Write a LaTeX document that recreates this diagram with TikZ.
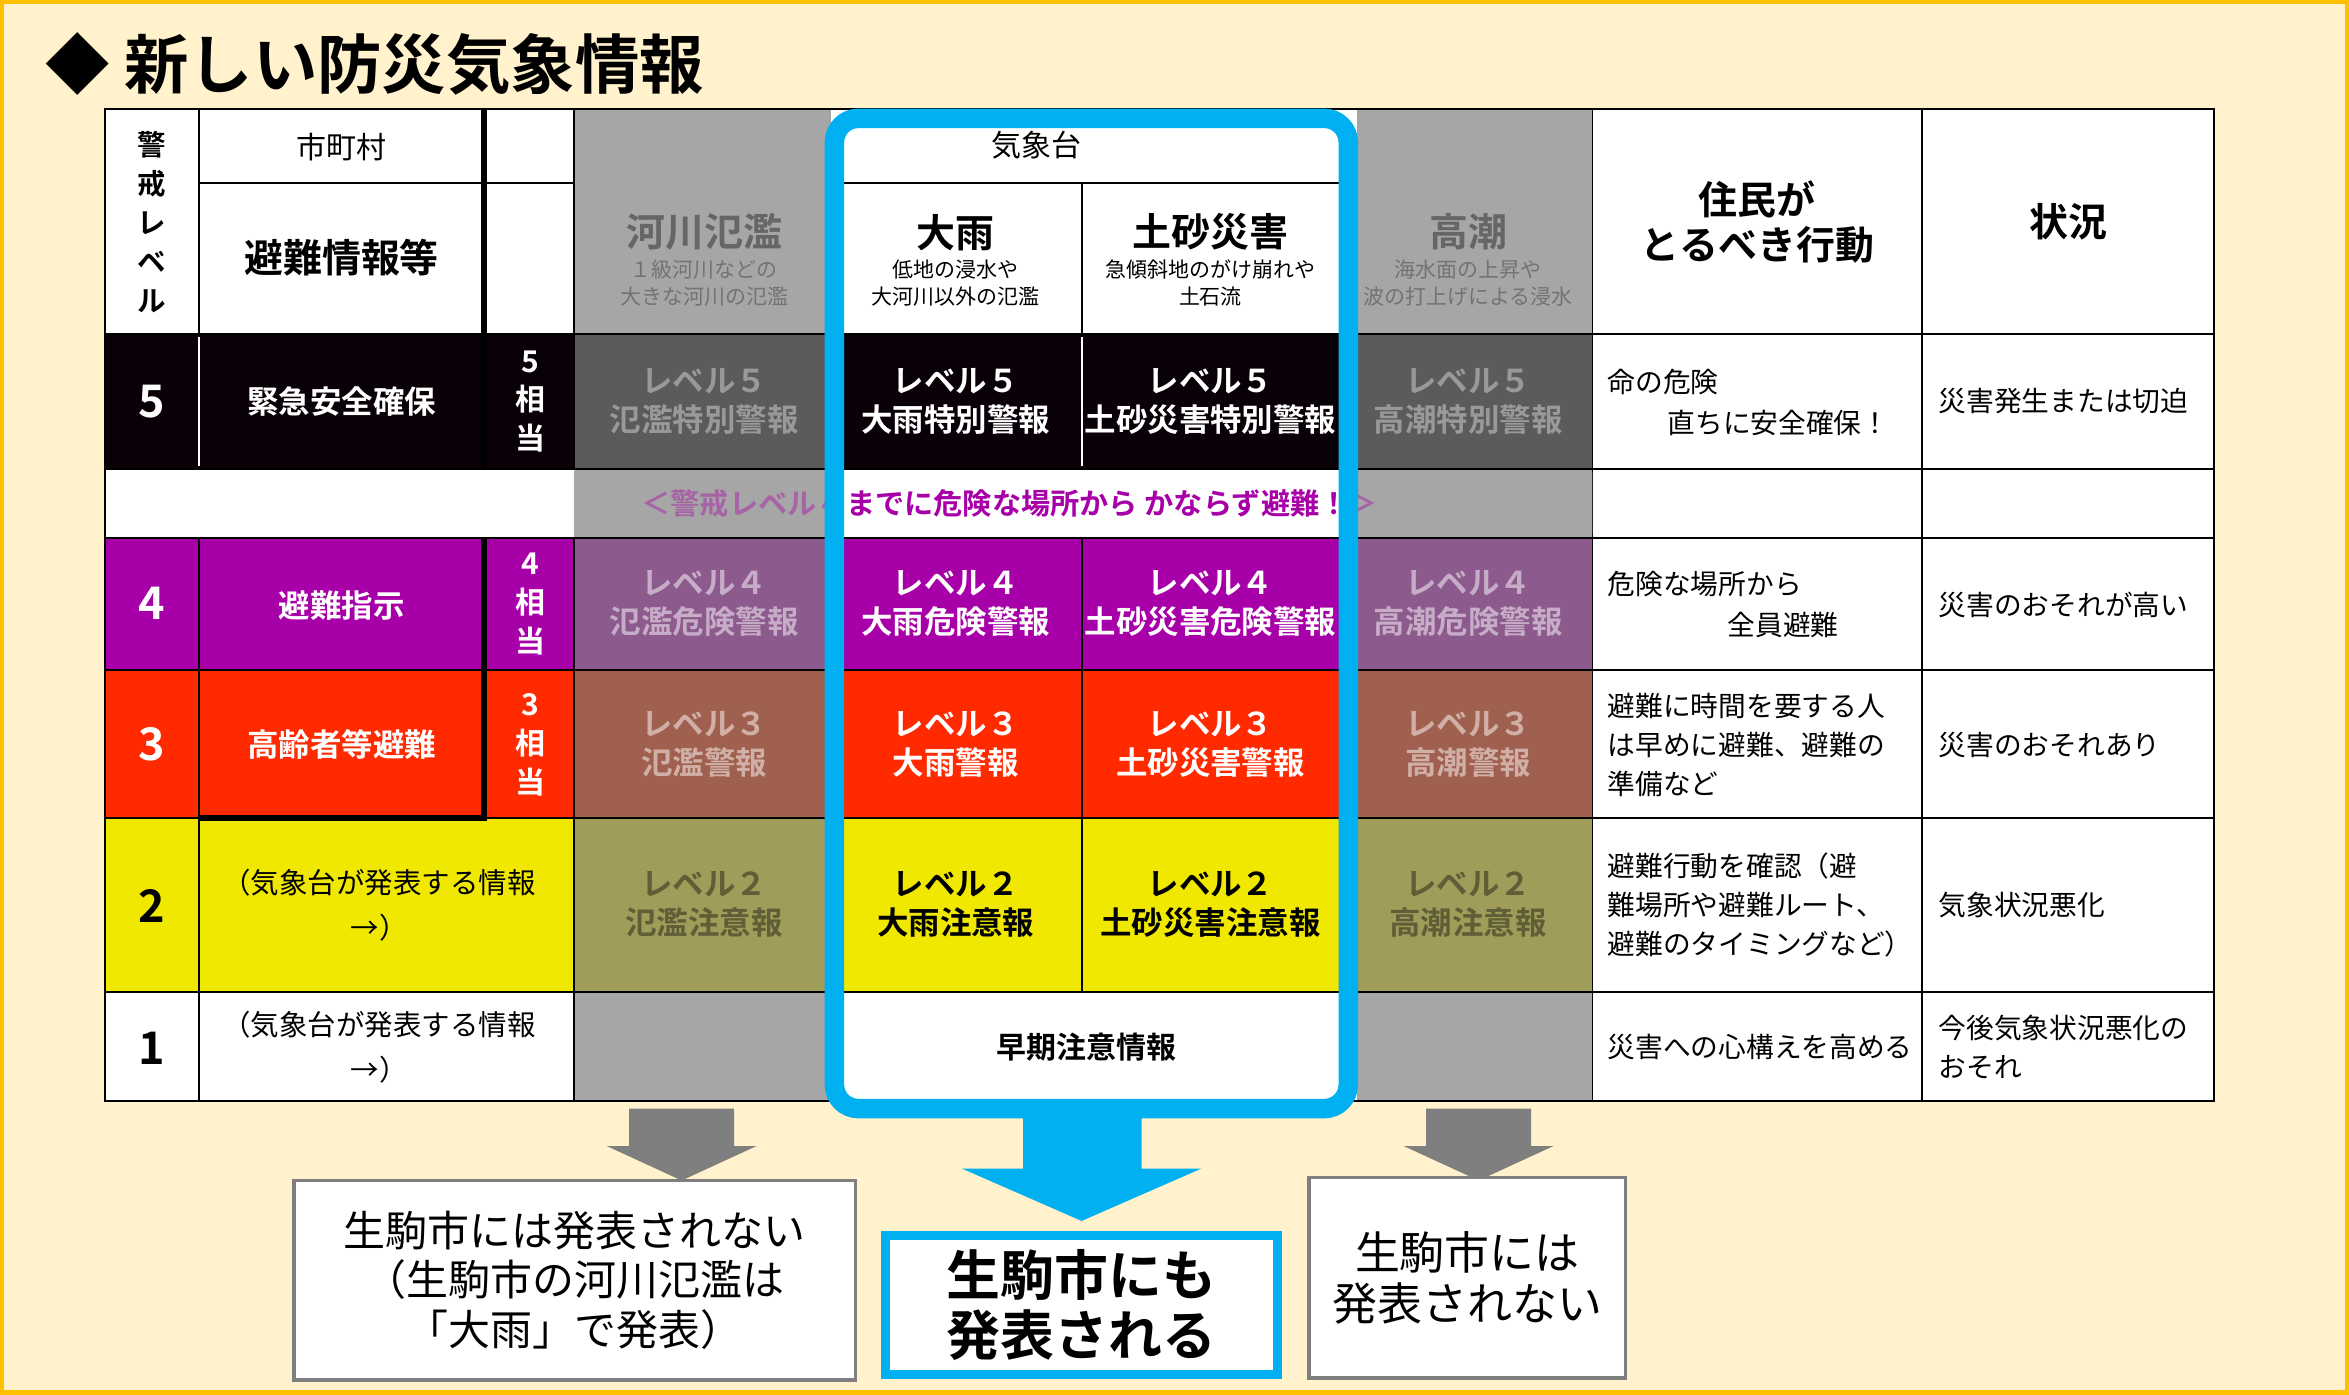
\documentclass[tikz,border=0pt]{standalone}
\usepackage{fontspec}
\setmainfont{Noto Sans CJK JP}
\newfontfamily\jpb{Noto Sans CJK JP Bold}
\usetikzlibrary{shapes.arrows}
\definecolor{bg}{HTML}{FFF2CC}
\definecolor{org}{HTML}{FFC000}
\definecolor{blk}{HTML}{0A0008}
\definecolor{pur}{HTML}{A800A8}
\definecolor{red5}{HTML}{FF2A00}
\definecolor{yel}{HTML}{F0E800}
\definecolor{gW}{HTML}{A6A6A6}
\definecolor{gK}{HTML}{5B5A5C}
\definecolor{gP}{HTML}{8C5A8C}
\definecolor{gR}{HTML}{A0604F}
\definecolor{gY}{HTML}{A09C5A}
\definecolor{sky}{HTML}{00B0F0}
\definecolor{bord}{HTML}{7F7F7F}
\tikzset{
 lv/.style={font=\jpb\fontsize{21}{24}\selectfont,align=center,inner sep=0},
 hd/.style={font=\jpb\fontsize{26}{30}\selectfont,align=center,inner sep=0},
 sub/.style={font=\fontsize{14}{18}\selectfont,align=center,inner sep=0},
 dig/.style={font=\jpb\fontsize{30}{30}\selectfont,inner sep=0},
 rt/.style={font=\fontsize{18.5}{26}\selectfont,align=left,anchor=west,inner sep=0},
 grid/.style={line width=1.3pt,black},
}
\newcommand{\cellf}[5]{\fill[#5] (#1,#2) rectangle (#3,#4);}
\begin{document}
\begin{tikzpicture}[x=1pt,y=-1pt]
\useasboundingbox (0,0) rectangle (1568,931);
\fill[bg] (0,0) rectangle (1568,931);
\draw[org,line width=3pt] (1.5,1.5) rectangle (1566.5,929.5);
\node[anchor=west,font=\jpb\fontsize{43}{43}\selectfont,inner sep=0] (title) at (30,43) {◆ 新しい防災気象情報};
% header fills
\cellf{70}{73}{1478}{223}{white}
\cellf{383}{73}{555}{223}{gW}
\cellf{906}{73}{1063}{223}{gW}
% row 5
\cellf{70}{223}{1478}{313}{white}
\cellf{70}{223}{383}{313}{blk}\cellf{383}{223}{555}{313}{gK}\cellf{555}{223}{906}{313}{blk}\cellf{906}{223}{1063}{313}{gK}
% banner
\cellf{70}{313}{1478}{359}{white}\cellf{383}{313}{1063}{359}{gW}\cellf{555}{313}{906}{359}{white}
% row 4
\cellf{70}{359}{1478}{447}{white}
\cellf{70}{359}{383}{447}{pur}\cellf{383}{359}{555}{447}{gP}\cellf{555}{359}{906}{447}{pur}\cellf{906}{359}{1063}{447}{gP}
% row 3
\cellf{70}{447}{1478}{546}{white}
\cellf{70}{447}{383}{546}{red5}\cellf{383}{447}{555}{546}{gR}\cellf{555}{447}{906}{546}{red5}\cellf{906}{447}{1063}{546}{gR}
% row 2
\cellf{70}{546}{1478}{662}{white}
\cellf{70}{546}{383}{662}{yel}\cellf{383}{546}{555}{662}{gY}\cellf{555}{546}{906}{662}{yel}\cellf{906}{546}{1063}{662}{gY}
% row 1
\cellf{70}{662}{1478}{735}{white}\cellf{383}{662}{555}{735}{gW}\cellf{906}{662}{1063}{735}{gW}
% grid lines
\draw[grid] (70,73) rectangle (1478,735);
\foreach \y in {223,313,359,447,546,662} \draw[grid] (70,\y) -- (1478,\y);
\draw[grid] (133,122) -- (383,122);
\draw[grid] (555,122) -- (906,122);
\foreach \x in {1063,1283} \draw[grid] (\x,73) -- (\x,735);
\draw[grid] (133,73) -- (133,313); \draw[grid] (133,359) -- (133,735);
\draw[grid] (383,73) -- (383,313); \draw[grid] (383,359) -- (383,735);
\draw[grid] (722,122) -- (722,313); \draw[grid] (722,359) -- (722,662);
\draw[white,line width=1.3pt] (133,225) -- (133,311) (323,225) -- (323,311) (722,225) -- (722,311);
\draw[black,line width=3.5pt] (323,73) -- (323,313) (323,359) -- (323,546) (133,546) -- (325,546);
% header texts
\node[font=\jpb\fontsize{19}{26}\selectfont,align=center,inner sep=0] (kei) at (101,148) {警\\戒\\レ\\ベ\\ル};
\node[font=\fontsize{20}{20}\selectfont] (shi) at (228,98) {市町村};
\node[hd] (hin) at (228,172) {避難情報等};
\node[font=\fontsize{20}{20}\selectfont] (kis) at (692,97) {気象台};
\node[hd,text=black!60] (kasen) at (470,155) {河川氾濫};
\node[sub,text=black!55] (kasens) at (470,189) {１級河川などの\\大きな河川の氾濫};
\node[hd] (ooame) at (638,155) {大雨};
\node[sub] (ooames) at (638,189) {低地の浸水や\\大河川以外の氾濫};
\node[hd] (dosha) at (808,155) {土砂災害};
\node[sub] (doshas) at (808,189) {急傾斜地のがけ崩れや\\土石流};
\node[hd,text=black!60] (taka) at (980,155) {高潮};
\node[sub,text=black!55] (takas) at (980,189) {海水面の上昇や\\波の打上げによる浸水};
\node[hd] (jumin) at (1173,148) {住民が\\とるべき行動};
\node[hd] (jokyo) at (1381,148) {状況};
% digits
\node[dig,white] (d5) at (101,268) {5};
\node[dig,white] (d4) at (101,403) {4};
\node[dig,white] (d3) at (101,497) {3};
\node[dig] (d2) at (101,605) {2};
\node[dig] (d1) at (101,700) {1};
% 避難情報
\node[lv,white] (h5) at (228,268) {緊急安全確保};
\node[lv,white] (h4) at (228,404) {避難指示};
\node[lv,white] (h3) at (228,497) {高齢者等避難};
\node[font=\fontsize{19}{30}\selectfont,align=center,inner sep=0] (h2) at (253,604) {（気象台が発表する情報\\→）};
\node[font=\fontsize{19}{30}\selectfont,align=center,inner sep=0] (h1) at (253,699) {（気象台が発表する情報\\→）};
\node[lv,white,font=\jpb\fontsize{20}{26}\selectfont] (s5) at (354,268) {5\\相\\当};
\node[lv,white,font=\jpb\fontsize{20}{26}\selectfont] (s4) at (354,403) {4\\相\\当};
\node[lv,white,font=\jpb\fontsize{20}{26}\selectfont] (s3) at (354,497) {3\\相\\当};
% level cells
\tikzset{lvl/.style={lv,font=\jpb\fontsize{21}{26}\selectfont}}
\node[lvl,text=black!40!white] (k5) at (470,268) {レベル５\\氾濫特別警報};
\node[lvl,white] (o5) at (638,268) {レベル５\\大雨特別警報};
\node[lvl,white] (ds5) at (808,268) {レベル５\\土砂災害特別警報};
\node[lvl,text=black!40!white] (t5) at (980,268) {レベル５\\高潮特別警報};
\node[lvl,text=gP!50!white] (k4) at (470,403) {レベル４\\氾濫危険警報};
\node[lvl,white] (o4) at (638,403) {レベル４\\大雨危険警報};
\node[lvl,white] (ds4) at (808,403) {レベル４\\土砂災害危険警報};
\node[lvl,text=gP!50!white] (t4) at (980,403) {レベル４\\高潮危険警報};
\node[lvl,text=gR!50!white] (k3) at (470,497) {レベル３\\氾濫警報};
\node[lvl,white] (o3) at (638,497) {レベル３\\大雨警報};
\node[lvl,white] (ds3) at (808,497) {レベル３\\土砂災害警報};
\node[lvl,text=gR!50!white] (t3) at (980,497) {レベル３\\高潮警報};
\node[lvl,text=gY!60!black] (k2) at (470,604) {レベル２\\氾濫注意報};
\node[lvl] (o2) at (638,604) {レベル２\\大雨注意報};
\node[lvl] (ds2) at (808,604) {レベル２\\土砂災害注意報};
\node[lvl,text=gY!60!black] (t2) at (980,604) {レベル２\\高潮注意報};
\node[lv,font=\jpb\fontsize{20}{20}\selectfont] (soki) at (725,699) {早期注意情報};
% banner
\node[font=\jpb\fontsize{19.5}{20}\selectfont,text=pur,inner sep=0] (ban) at (674,336) {＜警戒レベル４までに危険な場所から かならず避難！＞};
\fill[gW,opacity=0.6] (383,315) rectangle (555,357) (906,315) rectangle (1063,357);
% right columns
\node[rt] (r5a) at (1073,255) {命の危険};
\node[rt] (r5b) at (1113,282) {直ちに安全確保！};
\node[rt] (r4a) at (1073,390) {危険な場所から};
\node[rt] (r4b) at (1153,417) {全員避難};
\node[rt] (r3) at (1073,497) {避難に時間を要する人\\は早めに避難、避難の\\準備など};
\node[rt] (r2) at (1073,604) {避難行動を確認（避\\難場所や避難ルート、\\避難のタイミングなど）};
\node[rt] (r1) at (1073,699) {災害への心構えを高める};
\node[rt] (q5) at (1294,268) {災害発生または切迫};
\node[rt] (q4) at (1294,404) {災害のおそれが高い};
\node[rt] (q3) at (1294,497) {災害のおそれあり};
\node[rt] (q2) at (1294,604) {気象状況悪化};
\node[rt] (q1) at (1294,699) {今後気象状況悪化の\\おそれ};
% blue frame
\draw[sky,line width=13pt,rounded corners=16pt] (557,79) rectangle (900,740);
% arrows
\fill[bord] (420,740) -- (490,740) -- (490,765) -- (505,765) -- (455,788) -- (405,765) -- (420,765) -- cycle;
\fill[bord] (952,740) -- (1022,740) -- (1022,765) -- (1037,765) -- (987,788) -- (937,765) -- (952,765) -- cycle;
\fill[sky] (683,745) -- (762,745) -- (762,780) -- (802,780) -- (722,815) -- (642,780) -- (683,780) -- cycle;
% boxes
\node[draw=bord,line width=2.5pt,fill=white,minimum width=375pt,minimum height=133pt,align=center,font=\fontsize{28}{33}\selectfont] (b1) at (383.5,854.5) {生駒市には発表されない\\（生駒市の河川氾濫は\\「大雨」で発表）};
\node[draw=sky,line width=6pt,fill=white,minimum width=262pt,minimum height=93pt,align=center,font=\jpb\fontsize{36}{40}\selectfont] (b2) at (722,871) {生駒市にも\\発表される};
\node[draw=bord,line width=2.5pt,fill=white,minimum width=211pt,minimum height=134pt,align=center,font=\fontsize{30}{34}\selectfont] (b3) at (979.5,853) {生駒市には\\発表されない};
\end{tikzpicture}
\end{document}
